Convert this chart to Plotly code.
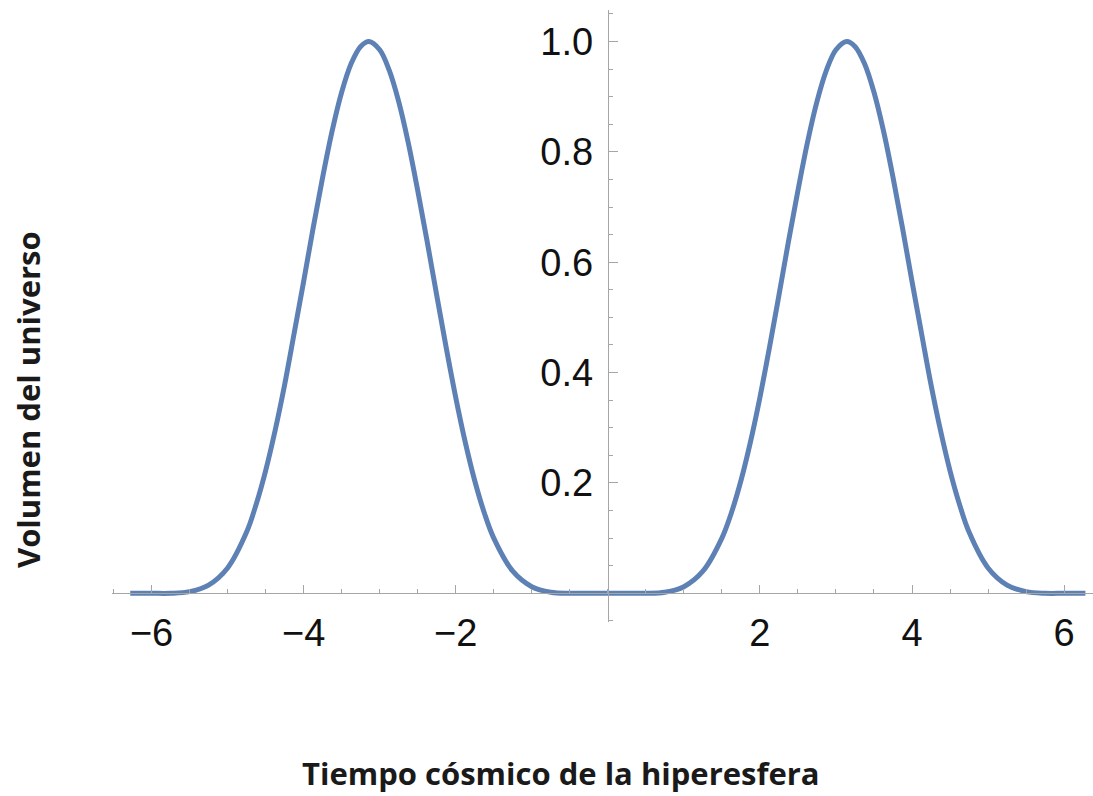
import plotly.graph_objects as go

# Data
tiempo = [-6.28, -6.25, -6.0, -5.75, -5.5, -5.25, -5.0, -4.75, -4.625, -4.5, -4.375,
          -4.25, -4.125, -4.0, -3.875, -3.75, -3.625, -3.5, -3.375, -3.25, -3.14,
          -3.0, -2.875, -2.75, -2.625, -2.5, -2.375, -2.25, -2.125, -2.0, -1.875,
          -1.75, -1.625, -1.5, -1.25, -1.0, -0.75, -0.5, -0.25, 0.0,
          0.25, 0.5, 0.75, 1.0, 1.25, 1.5, 1.625, 1.75, 1.875, 2.0, 2.125, 2.25,
          2.375, 2.5, 2.625, 2.75, 2.875, 3.0, 3.14, 3.25, 3.375, 3.5, 3.625, 3.75,
          3.875, 4.0, 4.125, 4.25, 4.375, 4.5, 4.625, 4.75, 5.0, 5.25, 5.5, 5.75,
          6.0, 6.25, 6.28]
volumen = [0.0, 0.0, 0.0, 0.0, 0.003, 0.015, 0.046, 0.111, 0.161, 0.222, 0.295,
           0.378, 0.471, 0.565, 0.662, 0.754, 0.838, 0.908, 0.960, 0.991, 1.0,
           0.985, 0.948, 0.891, 0.817, 0.730, 0.637, 0.540, 0.445, 0.355, 0.274,
           0.204, 0.146, 0.100, 0.040, 0.012, 0.002, 0.0, 0.0, 0.0,
           0.0, 0.0, 0.002, 0.012, 0.040, 0.100, 0.146, 0.204, 0.274, 0.355, 0.445, 0.540,
           0.637, 0.730, 0.817, 0.891, 0.948, 0.985, 1.0, 0.991, 0.960, 0.908, 0.838, 0.754,
           0.662, 0.565, 0.471, 0.378, 0.295, 0.222, 0.161, 0.111, 0.046, 0.015, 0.003, 0.0,
           0.0, 0.0, 0.0]

x_tickvals = [-6, -4, -2, 2, 4, 6]
y_tickvals = [0.2, 0.4, 0.6, 0.8, 1.0]
x_title = "Tiempo cósmico de la hiperesfera"
y_title = "Volumen del universo"

x_range = [-6.52, 6.38]
y_range = [-0.052, 1.057]

axis_color = "#a6a6a6"
line_color = "#5E81B5"

fig = go.Figure()
fig.add_trace(go.Scatter(
    x=tiempo, y=volumen, mode="lines",
    line=dict(color=line_color, width=5, shape="spline", smoothing=1.0),
    hoverinfo="skip", showlegend=False,
))

x_pos = (0 - y_range[0]) / (y_range[1] - y_range[0])
y_pos = (0 - x_range[0]) / (x_range[1] - x_range[0])

fig.update_layout(
    width=1093, height=796,
    margin=dict(l=112, r=0, t=10, b=174),
    paper_bgcolor="white", plot_bgcolor="white",
    font=dict(family="Liberation Sans, Arial, sans-serif", size=38, color="#111111"),
    xaxis=dict(
        range=x_range, showgrid=False, zeroline=False,
        showline=True, linecolor=axis_color, linewidth=1.2,
        anchor="free", position=x_pos,
        tickmode="array", tickvals=x_tickvals,
        ticks="inside", ticklen=8, tickwidth=1.2, tickcolor=axis_color,
        ticklabelstandoff=6,
        minor=dict(tickmode="linear", tick0=0, dtick=0.5, ticks="inside",
                   ticklen=4, tickwidth=1, tickcolor=axis_color),
        tickfont=dict(size=38, color="#111111"),
    ),
    yaxis=dict(
        range=y_range, showgrid=False, zeroline=False,
        showline=True, linecolor=axis_color, linewidth=1.2,
        anchor="free", position=y_pos,
        tickmode="array", tickvals=y_tickvals, tickformat=".1f",
        ticks="inside", ticklen=9, tickwidth=1.2, tickcolor=axis_color,
        ticklabelstandoff=7,
        minor=dict(tickmode="linear", tick0=0, dtick=0.05, ticks="inside",
                   ticklen=4.5, tickwidth=1, tickcolor=axis_color),
        tickfont=dict(size=38, color="#111111"),
    ),
    annotations=[
        dict(text="<b>" + x_title + "</b>", xref="paper", yref="paper",
             x=(561 - 112) / 981, y=(622 - 773) / 612, xanchor="center", yanchor="middle",
             showarrow=False, font=dict(family="Open Sans, sans-serif", size=31, color="#1a1a1a")),
        dict(text="<b>" + y_title + "</b>", xref="paper", yref="paper",
             x=(28 - 112) / 981, y=(622 - 400) / 612, xanchor="center", yanchor="middle",
             textangle=-90, showarrow=False,
             font=dict(family="Open Sans, sans-serif", size=31, color="#1a1a1a")),
    ],
)

fig.write_html("out.html")
